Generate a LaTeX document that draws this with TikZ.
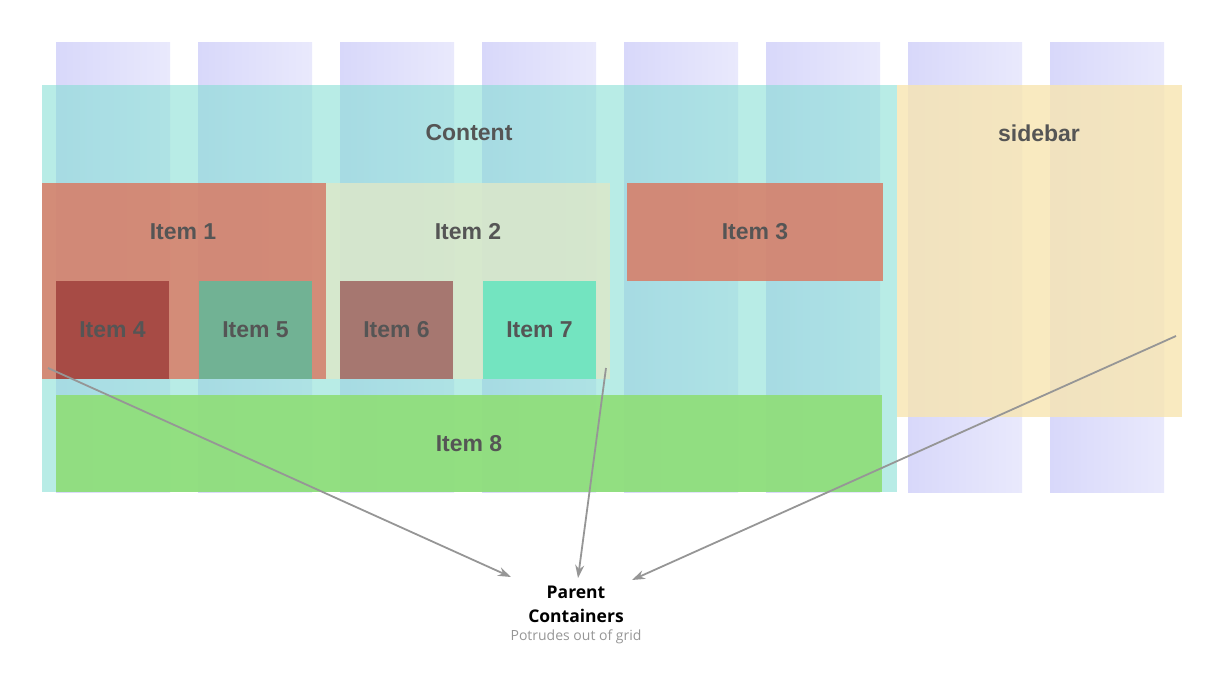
\documentclass[tikz,border=0pt]{standalone}
\usepackage{fontspec}
\setmainfont{Liberation Sans}
\newfontfamily\notefont{Open Sans}
\usepackage{xcolor}
\usepackage{tikz}
\usetikzlibrary{arrows.meta}

\definecolor{colL}{RGB}{216,216,250}
\definecolor{colR}{RGB}{233,233,252}
\definecolor{contentC}{RGB}{130,222,211}
\definecolor{sideC}{RGB}{247,229,178}
\definecolor{redC}{RGB}{217,123,101}
\definecolor{paleC}{RGB}{220,231,202}
\definecolor{darkredC}{RGB}{165,72,67}
\definecolor{jadeC}{RGB}{108,181,150}
\definecolor{mauveC}{RGB}{164,114,108}
\definecolor{mintC}{RGB}{110,228,192}
\definecolor{greenC}{RGB}{144,222,124}
\definecolor{labelC}{RGB}{85,85,85}
\definecolor{arrowC}{RGB}{150,150,150}

\begin{document}
\begin{tikzpicture}[x=1pt, y=-1pt, >={Stealth[length=13pt, width=9pt]},
    box/.style={anchor=north west, inner sep=0pt, outer sep=0pt, draw=none,
        font=\fontsize{23}{26}\selectfont\bfseries, text=labelC},
    boxlabel/.style={font=\fontsize{23}{26}\selectfont\bfseries, text=labelC},
    note/.style={align=center, inner sep=0pt}]
    \useasboundingbox (0,0) rectangle (1219,683);

    % grid columns
    \foreach \i in {0,...,7}
        \shade[left color=colL, right color=colR] ({56+142*\i},42) rectangle +(114,450);

    % parent containers
    \node (content) [box, fill=contentC, fill opacity=0.57, text opacity=1,
        minimum width=855pt, minimum height=407pt] at (42,85) {};
    \node (sidebar) [box, fill=sideC, fill opacity=0.81, text opacity=1,
        minimum width=285pt, minimum height=332pt] at (897,85) {};
    \node (contentlbl) [boxlabel] at (469,133) {Content};
    \node (sidebarlbl) [boxlabel] at (1039,133) {sidebar};

    % items
    \node (item1) [box, fill=redC, fill opacity=0.85, text opacity=1,
        minimum width=284pt, minimum height=196pt] at (42,183) {};
    \node (item2) [box, fill=paleC, fill opacity=0.85, text opacity=1,
        minimum width=284pt, minimum height=196pt] at (326,183) {};
    \node (item3) [box, fill=redC, fill opacity=0.85, text opacity=1,
        minimum width=256pt, minimum height=98pt] at (627,183) {Item 3};
    \node (item1lbl) [boxlabel] at (183,232) {Item 1};
    \node (item2lbl) [boxlabel] at (468,232) {Item 2};

    \node (item4) [box, fill=darkredC, fill opacity=0.95, text opacity=1,
        minimum width=113pt, minimum height=98pt] at (56,281) {Item 4};
    \node (item5) [box, fill=jadeC, fill opacity=0.95, text opacity=1,
        minimum width=113pt, minimum height=98pt] at (199,281) {Item 5};
    \node (item6) [box, fill=mauveC, fill opacity=0.95, text opacity=1,
        minimum width=113pt, minimum height=98pt] at (340,281) {Item 6};
    \node (item7) [box, fill=mintC, fill opacity=0.95, text opacity=1,
        minimum width=113pt, minimum height=98pt] at (483,281) {Item 7};
    \node (item8) [box, fill=greenC, fill opacity=0.95, text opacity=1,
        minimum width=826pt, minimum height=97pt] at (56,395) {Item 8};

    % note
    \node (parent) [note, font=\notefont\fontsize{17.5}{24}\selectfont\bfseries] at (576,604)
        {Parent\\Containers};
    \node (potrudes) [note, text=arrowC, font=\notefont\fontsize{14}{16}\selectfont] at (576,637)
        {Potrudes out of grid};

    \coordinate (fromcontent) at (48,368);
    \coordinate (fromitem2) at (606,368);
    \coordinate (fromsidebar) at (1176,336);
    \coordinate (toleft) at (511,577);
    \coordinate (tomid) at (578,578);
    \coordinate (toright) at (632,580);

    \draw[->, arrowC, line width=1.8pt] (fromcontent) -- (toleft);
    \draw[->, arrowC, line width=1.8pt] (fromitem2) -- (tomid);
    \draw[->, arrowC, line width=1.8pt] (fromsidebar) -- (toright);
\end{tikzpicture}
\end{document}
